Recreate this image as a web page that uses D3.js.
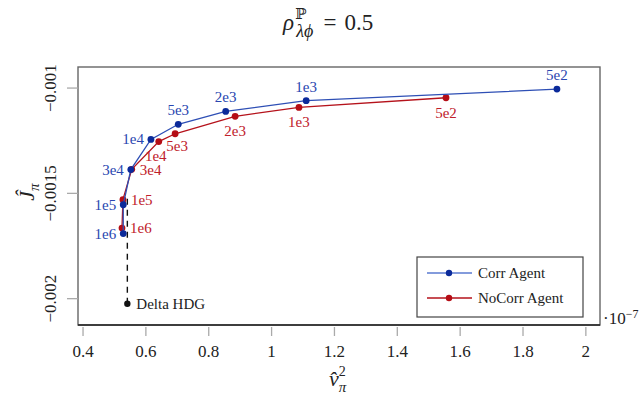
<!DOCTYPE html>
<html>
<head>
<meta charset="utf-8">
<script src="https://cdn.jsdelivr.net/npm/d3@7"></script>
<style>
  body { margin: 0; background: #fff; }
</style>
</head>
<body>
<div id="chart"></div>
<script>
// budgets (point labels), shared by both series
const budgets = ["5e2", "1e3", "2e3", "5e3", "1e4", "3e4", "1e5", "1e6"];
// v^2 (x, in units of 1e-7) and J (y)
const corrX = [1.908, 1.110, 0.854, 0.703, 0.616, 0.552, 0.528, 0.528];
const corrY = [-0.001005, -0.00106, -0.001111, -0.001172, -0.001244, -0.001387, -0.001554, -0.001691];
const nocorrX = [1.555, 1.087, 0.884, 0.693, 0.641, 0.555, 0.527, 0.524];
const nocorrY = [-0.001046, -0.001092, -0.001134, -0.001217, -0.001254, -0.001386, -0.00153, -0.001665];
const deltaX = 0.541, deltaY = -0.002024, deltaTopY = -0.00151;
const xTicks = [0.4, 0.6, 0.8, 1, 1.2, 1.4, 1.6, 1.8, 2];
const yTicks = [-0.001, -0.0015, -0.002];

const W = 644, H = 402;
const m = { left: 78, top: 67, right: 44, bottom: 77 };
const iw = W - m.left - m.right, ih = H - m.top - m.bottom;
const serif = "'Liberation Serif', 'DejaVu Serif', serif";

const blueLine = "#2e4fb5", blueDot = "#0b2a9a", blueText = "#2946b0";
const redLine = "#b5121b", redDot = "#b50d15", redText = "#c0202a";

const svg = d3.select("#chart").append("svg")
    .attr("width", W).attr("height", H)
    .attr("font-family", serif)
    .style("font-family", serif);

const x = d3.scaleLinear().domain([0.384, 2.045]).range([m.left, m.left + iw]);
const y = d3.scaleLinear().domain([-0.002125, -0.0009]).range([m.top + ih, m.top]);

// frame
svg.append("rect")
    .attr("x", m.left).attr("y", m.top).attr("width", iw).attr("height", ih)
    .attr("fill", "none").attr("stroke", "#666").attr("stroke-width", 1.4);
svg.append("line")
    .attr("x1", m.left).attr("x2", m.left + iw)
    .attr("y1", m.top + ih).attr("y2", m.top + ih)
    .attr("stroke", "#222").attr("stroke-width", 1.4);

// x axis ticks (detached below frame)
const xAxis = svg.append("g");
xAxis.selectAll("line").data(xTicks).join("line")
    .attr("x1", d => x(d)).attr("x2", d => x(d))
    .attr("y1", m.top + ih + 2).attr("y2", m.top + ih + 11)
    .attr("stroke", "#aaa").attr("stroke-width", 1.3);
xAxis.selectAll("text").data(xTicks).join("text")
    .attr("x", d => x(d)).attr("y", m.top + ih + 32)
    .attr("text-anchor", "middle").attr("font-size", 17).attr("fill", "#222")
    .text(d => d3.format("~g")(d));

// y axis ticks
const yAxis = svg.append("g");
yAxis.selectAll("line").data(yTicks).join("line")
    .attr("x1", m.left - 11).attr("x2", m.left)
    .attr("y1", d => y(d)).attr("y2", d => y(d))
    .attr("stroke", "#aaa").attr("stroke-width", 1.3);
yAxis.selectAll("text").data(yTicks).join("text")
    .attr("transform", d => `translate(${m.left - 22},${y(d)}) rotate(-90)`)
    .attr("text-anchor", "middle").attr("font-size", 17).attr("fill", "#222")
    .text(d => "\u2212" + String(Math.abs(d)));

// exponent marker
const ex = svg.append("text")
    .attr("x", m.left + iw + 3).attr("y", m.top + ih - 1)
    .attr("font-size", 17).attr("fill", "#222");
ex.append("tspan").text("\u00b710");
ex.append("tspan").attr("dy", -6).attr("font-size", 12).text("\u22127");

// title
const title = svg.append("text")
    .attr("x", 283).attr("y", 30).attr("font-size", 23).attr("fill", "#222");
title.append("tspan").attr("font-style", "italic").text("\u03c1");
title.append("tspan").attr("dx", 1).attr("dy", -11).attr("font-size", 15).text("\u2119");
title.append("tspan").attr("dx", -10).attr("dy", 18).attr("font-size", 18)
    .attr("font-style", "italic").text("\u03bb\u03d5");
title.append("tspan").attr("dx", 10).attr("dy", -7).text("=");
title.append("tspan").attr("dx", 8).text("0.5");

// axis labels
const yl = svg.append("text")
    .attr("transform", `translate(34,${m.top + ih / 2 - 4}) rotate(-90)`)
    .attr("text-anchor", "middle").attr("font-size", 22).attr("fill", "#222");
yl.append("tspan").attr("font-style", "italic").text("\u0134");
yl.append("tspan").attr("dy", 5).attr("font-size", 15).attr("font-style", "italic").text("\u03c0");

const xl = svg.append("text")
    .attr("x", 329).attr("y", 386).attr("font-size", 22).attr("fill", "#222");
xl.append("tspan").attr("font-style", "italic").text("v\u0302");
xl.append("tspan").attr("dy", -10).attr("font-size", 14).text("2");
xl.append("tspan").attr("dx", -7).attr("dy", 16).attr("font-size", 15)
    .attr("font-style", "italic").text("\u03c0");

// Delta HDG dashed reference
svg.append("line")
    .attr("x1", x(deltaX)).attr("x2", x(deltaX))
    .attr("y1", y(deltaY)).attr("y2", y(deltaTopY))
    .attr("stroke", "#111").attr("stroke-width", 1.4).attr("stroke-dasharray", "6,5");
svg.append("circle").attr("cx", x(deltaX)).attr("cy", y(deltaY)).attr("r", 3.2).attr("fill", "#111");
svg.append("text").attr("x", x(deltaX) + 9).attr("y", y(deltaY) + 5)
    .attr("font-size", 15).attr("fill", "#222").text("Delta HDG");

// series
const line = d3.line().x(d => x(d.x)).y(d => y(d.y));
const corr = budgets.map((b, i) => ({ b, x: corrX[i], y: corrY[i] }));
const nocorr = budgets.map((b, i) => ({ b, x: nocorrX[i], y: nocorrY[i] }));

function drawSeries(data, lc, dc) {
    svg.append("path").datum(data).attr("d", line)
        .attr("fill", "none").attr("stroke", lc).attr("stroke-width", 1.3);
    svg.append("g").selectAll("circle").data(data).join("circle")
        .attr("cx", d => x(d.x)).attr("cy", d => y(d.y)).attr("r", 3.4).attr("fill", dc);
}
drawSeries(nocorr, redLine, redDot);
drawSeries(corr, blueLine, blueDot);

// label placement: [dx, dy, anchor]
const corrPos = [[0, -9, "middle"], [0, -9, "middle"], [0, -9, "middle"], [0, -9, "middle"],
    [-7, 5, "end"], [-7, 5, "end"], [-7, 5, "end"], [-7, 5, "end"]];
const nocorrPos = [[0, 20, "middle"], [0, 20, "middle"], [0, 20, "middle"], [2, 17, "middle"],
    [-3, 19, "middle"], [8, 6, "start"], [8, 5, "start"], [8, 5, "start"]];

function drawLabels(data, pos, col) {
    svg.append("g").selectAll("text").data(data).join("text")
        .attr("x", (d, i) => x(d.x) + pos[i][0])
        .attr("y", (d, i) => y(d.y) + pos[i][1])
        .attr("text-anchor", (d, i) => pos[i][2])
        .attr("font-size", 15).attr("fill", col)
        .text(d => d.b);
}
drawLabels(corr, corrPos, blueText);
drawLabels(nocorr, nocorrPos, redText);

// legend
const lg = svg.append("g").attr("transform", "translate(417,257)");
lg.append("rect").attr("width", 166).attr("height", 60)
    .attr("fill", "#fff").attr("stroke", "#444").attr("stroke-width", 1.2);
const entries = [["Corr Agent", "#5a7ad0", blueDot], ["NoCorr Agent", redLine, redDot]];
entries.forEach((e, i) => {
    const cy = 16 + i * 25;
    lg.append("line").attr("x1", 10).attr("x2", 55).attr("y1", cy).attr("y2", cy)
        .attr("stroke", e[1]).attr("stroke-width", 1.3);
    lg.append("circle").attr("cx", 32).attr("cy", cy).attr("r", 3.2).attr("fill", e[2]);
    lg.append("text").attr("x", 61).attr("y", cy + 5).attr("font-size", 15)
        .attr("fill", "#222").text(e[0]);
});
</script>
</body>
</html>
